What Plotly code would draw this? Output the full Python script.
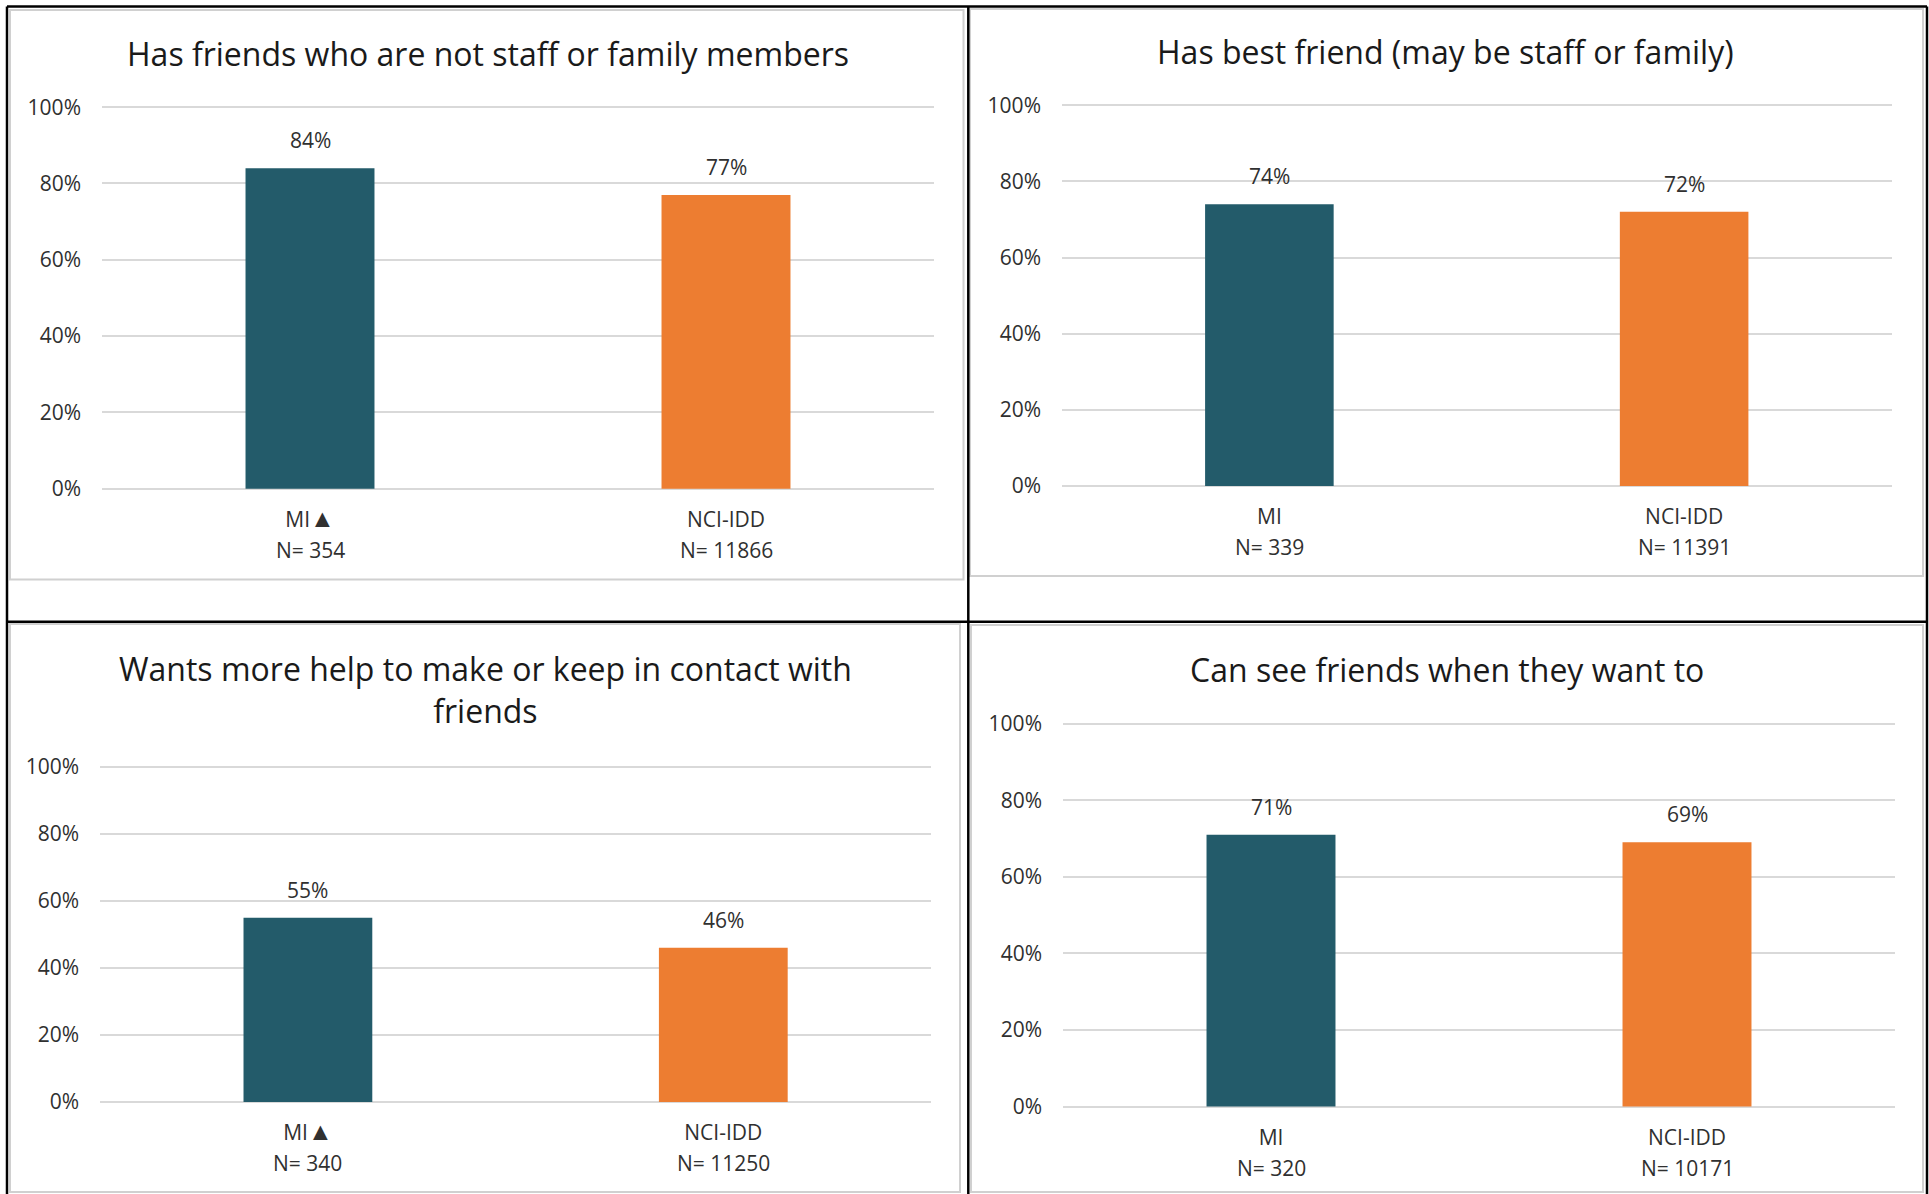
import plotly.graph_objects as go

W, H = 1929, 1194

# ---------------- data ----------------
groups = ["MI", "NCI-IDD"]
titles = [
    "Has friends who are not staff or family members",
    "Has best friend (may be staff or family)",
    "Wants more help to make or keep in contact with<br>friends",
    "Can see friends when they want to",
]
values_friends = [0.84, 0.77]
values_best_friend = [0.74, 0.72]
values_wants_help = [0.55, 0.46]
values_see_friends = [0.71, 0.69]
n_friends = [354, 11866]
n_best_friend = [339, 11391]
n_wants_help = [340, 11250]
n_see_friends = [320, 10171]
significant = [True, False, True, False]  # ▲ marker on MI label
y_ticks = [0, 0.2, 0.4, 0.6, 0.8, 1.0]

panel_values = [values_friends, values_best_friend, values_wants_help, values_see_friends]
panel_ns = [n_friends, n_best_friend, n_wants_help, n_see_friends]

# ---------------- styling ----------------
TEAL = "#235B6A"
ORANGE = "#ED7D31"
GRID = "#D9D9D9"
TXT = "#303030"
FONT = "Open Sans"
PAD = 0.003

# plot-area pixel boxes: (x0, x1, ytop(100%), ybottom(0%))
boxes = [
    (102, 934, 107.2, 488.7),
    (1062, 1891.5, 105.2, 486.0),
    (100.2, 931, 766.8, 1102.0),
    (1063, 1895, 723.6, 1106.5),
]
title_pos = [(487.5, 53.4), (1445, 51.4), (485.6, 690.0), (1447, 669.6)]

fig = go.Figure()

for i in range(4):
    x0, x1, yt, yb = boxes[i]
    ph = yb - yt
    yt2 = yt - PAD * ph
    yb2 = yb + PAD * ph
    ax = "" if i == 0 else str(i + 1)
    fig.add_trace(go.Bar(
        x=groups, y=panel_values[i],
        marker=dict(color=[TEAL, ORANGE], line=dict(width=0)),
        xaxis="x" + ax, yaxis="y" + ax,
        width=0.31, showlegend=False, hoverinfo="skip",
    ))
    ticktext = []
    for g in groups:
        lab = g + ('<span style="font-size:25px">▲</span>' if (g == "MI" and significant[i]) else "")
        ticktext.append(lab)
    fig.layout["xaxis" + ax] = dict(
        domain=[x0 / W, x1 / W], anchor="y" + ax,
        tickvals=groups, ticktext=ticktext, range=[-0.5, 1.5],
        showgrid=False, zeroline=False, showline=False, ticks="",
        tickfont=dict(family=FONT, size=21, color=TXT),
        ticklabelstandoff=15, automargin=False,
    )
    fig.layout["yaxis" + ax] = dict(
        domain=[1 - yb2 / H, 1 - yt2 / H], anchor="x" + ax,
        range=[-PAD, 1.0 + PAD], tickvals=y_ticks, tickformat=".0%",
        showgrid=True, gridcolor=GRID, gridwidth=1.5,
        zeroline=False, showline=False, ticks="",
        tickfont=dict(family=FONT, size=21, color=TXT),
        ticklabelstandoff=20, automargin=False,
    )
    for g, v, n in zip(groups, panel_values[i], panel_ns[i]):
        fig.add_annotation(
            x=g, y=v, xref="x" + ax, yref="y" + ax,
            text=f"{round(v * 100)}%", showarrow=False,
            yanchor="bottom", yshift=12,
            font=dict(family=FONT, size=21, color=TXT),
        )
        fig.add_annotation(
            x=g, y=0, xref="x" + ax, yref="y" + ax + " domain",
            text=f"N= {n}", showarrow=False,
            yanchor="middle", yshift=-60,
            font=dict(family=FONT, size=21, color=TXT),
        )
    tx, ty = title_pos[i]
    fig.add_annotation(
        x=tx / W, y=1 - ty / H, xref="paper", yref="paper",
        text=titles[i], showarrow=False, xanchor="center", yanchor="middle",
        font=dict(family=FONT, size=32, color="#1A1A1A"),
    )

# ---------------- frames ----------------
shapes = []
def rect(x0, y0, x1, y1, color, width):
    shapes.append(dict(type="rect", xref="paper", yref="paper",
                       x0=x0 / W, x1=x1 / W, y0=1 - y1 / H, y1=1 - y0 / H,
                       line=dict(color=color, width=width), fillcolor="rgba(0,0,0,0)",
                       layer="below"))
def line(x0, y0, x1, y1, color, width):
    shapes.append(dict(type="line", xref="paper", yref="paper",
                       x0=x0 / W, x1=x1 / W, y0=1 - y0 / H, y1=1 - y1 / H,
                       line=dict(color=color, width=width)))

# chart (gray) borders
rect(10, 10, 963.5, 579.5, "#D0D0D0", 2)
rect(970, 9, 1923, 576, "#D0D0D0", 2)
rect(10, 624, 960, 1192, "#D0D0D0", 2)
rect(971, 625, 1923, 1192, "#D0D0D0", 2)
# table (black) grid
line(7, 6.5, 1927, 6.5, "black", 2.5)
line(7, 6.5, 7, 1194, "black", 2.5)
line(1927, 6.5, 1927, 1194, "black", 2.5)
line(968.3, 6.5, 968.3, 1194, "black", 2.5)
line(7, 621.7, 1927, 621.7, "black", 2.5)

fig.update_layout(
    width=W, height=H, autosize=False,
    margin=dict(l=0, r=0, t=0, b=0, pad=0),
    paper_bgcolor="white", plot_bgcolor="white",
    shapes=shapes, bargap=0.69,
    font=dict(family=FONT, color=TXT),
)

fig.write_html(
    "out.html",
    config={"displayModeBar": False},
    post_script="document.body.style.margin='0';document.body.style.overflow='hidden';",
)
